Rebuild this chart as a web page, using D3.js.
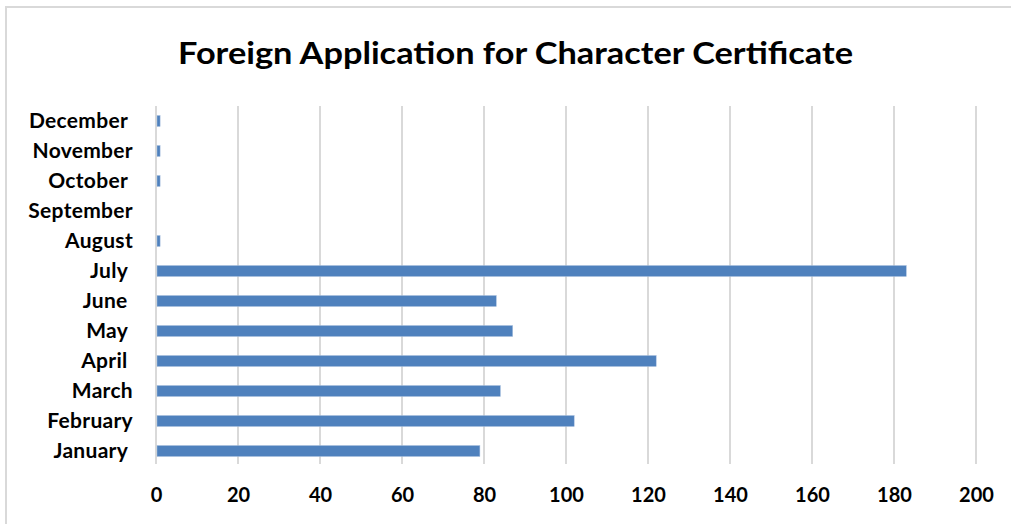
<!DOCTYPE html>
<html>
<head>
<meta charset="utf-8">
<script src="https://cdn.jsdelivr.net/npm/d3@7"></script>
<style>
  body { margin: 0; background: #fff; }
  svg text { font-family: Lato, "Open Sans", sans-serif; font-weight: bold; fill: #000; white-space: pre; }
</style>
</head>
<body>
<div id="chart-container"></div>
<script>
const width = 1011;
const height = 524;

// data (some Excel labels carry a trailing space)
const months = ["January ", "February", "March", "April ", "May ", "June ", "July ",
    "August", "September", "October ", "November", "December "];
const applications = [79, 102, 84, 122, 87, 83, 183, 1, 0, 1, 1, 1];
const xTicks = [0, 20, 40, 60, 80, 100, 120, 140, 160, 180, 200];
const title = "Foreign Application for Character Certificate";

const data = months.map((m, i) => ({ month: m, value: applications[i] }));

const svg = d3.select("div#chart-container").append("svg")
    .attr("width", width)
    .attr("height", height);

svg.append("rect")
    .attr("width", width).attr("height", height)
    .attr("fill", "#fff");

// chart border (cropped at right and bottom in the original)
svg.append("rect")
    .attr("x", 6).attr("y", 7)
    .attr("width", width + 20).attr("height", height + 20)
    .attr("fill", "none")
    .attr("stroke", "#d9d9d9")
    .attr("stroke-width", 2);

const xScale = d3.scaleLinear().domain([0, 200]).range([156, 976]);
const yScale = d3.scaleBand()
    .domain(months)
    .range([466, 106])
    .paddingInner(0.633)
    .paddingOuter(0.3165);

// gridlines
svg.append("g")
    .selectAll("line")
    .data(xTicks)
    .enter()
    .append("line")
    .attr("x1", d => xScale(d)).attr("x2", d => xScale(d))
    .attr("y1", 106).attr("y2", 464)
    .attr("stroke", "#d9d9d9")
    .attr("stroke-width", 2);

// x axis labels
const xaxis = d3.axisBottom(xScale).tickValues(xTicks).tickSize(0).tickPadding(0);
const gx = svg.append("g")
    .attr("transform", "translate(0,502)")
    .call(xaxis);
gx.select(".domain").remove();
gx.selectAll("text")
    .attr("dy", 0)
    .attr("y", 0)
    .style("font-size", "20px");

// y axis labels
const yaxis = d3.axisLeft(yScale).tickSize(0).tickPadding(0);
const gy = svg.append("g")
    .attr("transform", "translate(133,0)")
    .call(yaxis);
gy.select(".domain").remove();
gy.selectAll("text")
    .attr("dy", "0.33em")
    .style("font-size", "21px")
    .style("letter-spacing", "0.3px");

// bars
svg.append("g")
    .selectAll("rect")
    .data(data)
    .enter()
    .append("rect")
    .attr("x", xScale(0) + 1)
    .attr("y", d => yScale(d.month))
    .attr("width", d => Math.max(0, xScale(d.value) - xScale(0) - 1))
    .attr("height", yScale.bandwidth())
    .attr("fill", "#4f81bd")
    .attr("stroke", "#a9c1e0")
    .attr("stroke-width", 0.5);

svg.append("text")
    .attr("x", 515.5)
    .attr("y", 64)
    .attr("text-anchor", "middle")
    .attr("textLength", 675)
    .attr("lengthAdjust", "spacingAndGlyphs")
    .style("font-size", "31px")
    .text(title);
</script>
</body>
</html>
